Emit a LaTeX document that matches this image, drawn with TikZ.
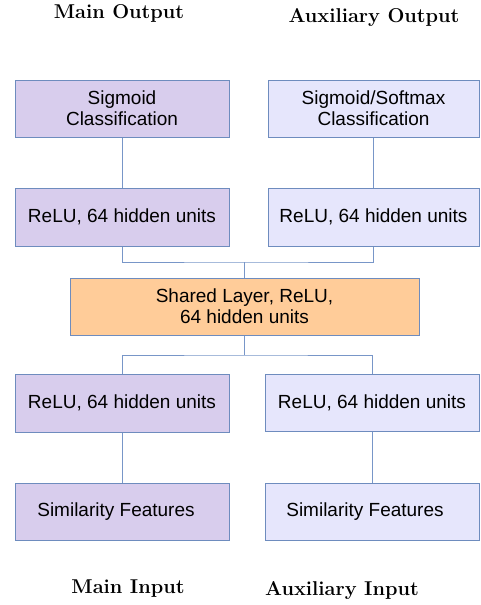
\documentclass[tikz,border=0pt]{standalone}
\usepackage{fontspec}
\newfontfamily\boxfont{Liberation Sans}
\definecolor{mainfill}{RGB}{216,205,237}
\definecolor{auxfill}{RGB}{230,230,252}
\definecolor{sharedfill}{RGB}{255,204,153}
\definecolor{edgeblue}{RGB}{110,140,190}
\definecolor{linkblue}{RGB}{120,150,200}
\tikzset{
  layerbox/.style={draw=edgeblue, line width=1pt, minimum height=57pt, inner sep=0pt, align=center,
    font=\boxfont\fontsize{19}{21}\selectfont, text=black},
  mainbox/.style={layerbox, fill=mainfill, minimum width=214pt},
  auxbox/.style={layerbox, fill=auxfill},
  sharedbox/.style={layerbox, fill=sharedfill, minimum width=349pt},
  caption/.style={inner sep=0pt, font=\bfseries\fontsize{20}{23}\selectfont, text=black},
  link/.style={draw=linkblue, line width=1pt}
}
\begin{document}
\begin{tikzpicture}[x=1pt,y=-1pt]
\useasboundingbox (0,0) rectangle (480,605);
% titles
\node[caption] (mo) at (119,13) {Main Output};
\node[caption] (ao) at (374,17) {Auxiliary Output};
\node[caption] (mi) at (128,589) {Main Input};
\node[caption] (ai) at (342,590) {Auxiliary Input};
% top row
\node[mainbox] (sig) at (122,108.5) {Sigmoid\\Classification};
\node[auxbox, minimum width=211pt] (soft) at (373.5,108.5) {Sigmoid/Softmax\\Classification};
% relu top
\node[mainbox, minimum height=58pt] (rm1) at (122,217) {ReLU, 64 hidden units};
\node[auxbox, minimum width=211pt, minimum height=58pt] (ra1) at (373.5,217) {ReLU, 64 hidden units};
% shared
\node[sharedbox] (sh) at (244.5,306.5) {Shared Layer, ReLU,\\64 hidden units};
% relu bottom
\node[mainbox, minimum height=58pt] (rm2) at (122,403) {ReLU, 64 hidden units};
\node[auxbox, minimum width=214pt, minimum height=57pt] (ra2) at (372,402.5) {ReLU, 64 hidden units};
% similarity
\node[mainbox] (sm) at (122,511.5) {\hspace*{-12pt}Similarity Features};
\node[auxbox, minimum width=214pt] (sa) at (372,511.5) {\hspace*{-14pt}Similarity Features};
% junctions
\coordinate (j1) at (244.5,262);
\coordinate (j2) at (244.5,355);
% connectors
\draw[link] (sig.south) -- (rm1.north);
\draw[link] (soft.south) -- (ra1.north);
\draw[link] (rm1.south) |- (j1) -| (ra1.south);
\draw[link] (sh.north) -- (j1);
\draw[link] (sh.south) -- (j2);
\draw[link] (rm2.north) |- (j2) -| (ra2.north);
\draw[link] (rm2.south) -- (sm.north);
\draw[link] (ra2.south) -- (sa.north);
\end{tikzpicture}
\end{document}
